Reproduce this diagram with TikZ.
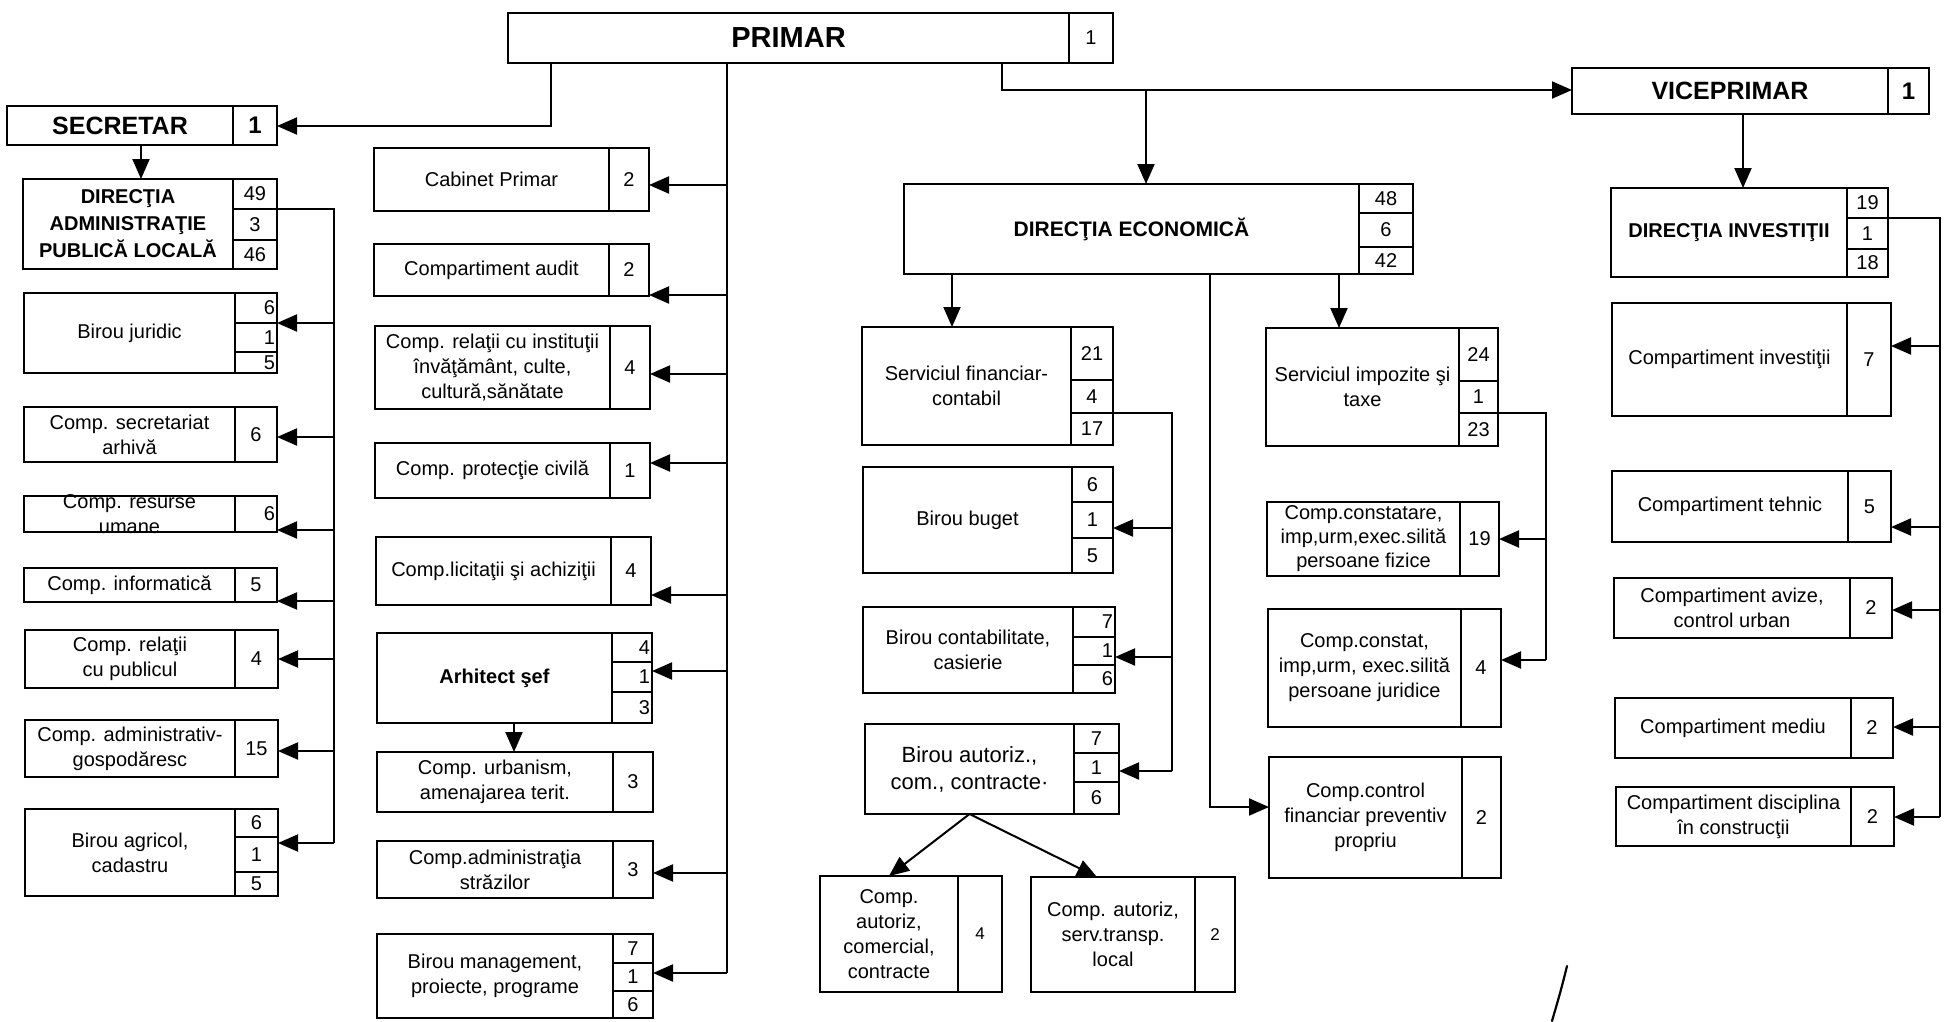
\documentclass[tikz,border=0pt]{standalone}
\usepackage{fontspec}
\setmainfont{Liberation Sans}
\usetikzlibrary{arrows.meta}
\newcommand\orgnode[7][]{\node[box,minimum width={#4-#3},minimum height={#6-#5},#1] (#2) at (#3,#5) {#7};}
\tikzset{
 box/.style={draw, line width=2.1pt, inner sep=0pt, outer sep=0pt, anchor=north west, align=center, font=\fontsize{20}{25}\selectfont},
 ttl/.style={font=\bfseries\fontsize{25}{30}\selectfont},
 dirf/.style={font=\bfseries\fontsize{20}{27}\selectfont},
 smallf/.style={font=\fontsize{17}{21}\selectfont},
 rnum/.style={text width=#1, align=right},
 arr/.style={line width=2pt, -{Triangle[length=20pt,width=17pt]}},
 ln/.style={line width=2pt},
}
\begin{document}
\begin{tikzpicture}[x=1pt,y=-1pt]
\fill[white] (0,0) rectangle (1944,1021);
\useasboundingbox (0,0) rectangle (1944,1021);

% ---------- PRIMAR ----------
\orgnode[font=\bfseries\fontsize{29}{34}\selectfont]{primar}{508}{1069}{13}{63}{PRIMAR}
\orgnode{primar-n}{1069}{1113}{13}{63}{1}

% ---------- SECRETAR column ----------
\orgnode[ttl]{secretar}{7}{233}{106}{145}{SECRETAR}
\orgnode[font=\bfseries\fontsize{24}{28}\selectfont]{secretar-n}{233}{277}{106}{145}{1}

\orgnode[dirf]{dirAdmin}{23}{233}{179}{269}{DIRECŢIA\\ADMINISTRAŢIE\\PUBLICĂ LOCALĂ}
\orgnode{dirAdmin-a}{233}{277}{179}{209}{49}
\orgnode{dirAdmin-b}{233}{277}{209}{240}{3}
\orgnode{dirAdmin-c}{233}{277}{240}{269}{46}

\orgnode{juridic}{24}{235}{293}{373}{Birou juridic}
\orgnode[rnum=38pt]{juridic-a}{235}{277}{293}{323}{6}
\orgnode[rnum=38pt]{juridic-b}{235}{277}{323}{352}{1}
\orgnode[rnum=38pt]{juridic-c}{235}{277}{352}{373}{5}

\orgnode{secretariat}{24}{235}{407}{462}{Comp. secretariat\\arhivă}
\orgnode{secretariat-n}{235}{277}{407}{462}{6}

\orgnode{resurse}{24}{235}{496}{532}{}
\node[align=center, font=\fontsize{20}{25}\selectfont] (resurse-t) at (resurse.center) {Comp. resurse\\umane};
\orgnode[rnum=38pt]{resurse-n}{235}{277}{496}{532}{6}

\orgnode{informatica}{24}{235}{568}{602}{Comp. informatică}
\orgnode{informatica-n}{235}{277}{568}{602}{5}

\orgnode{relatii}{25}{235}{630}{688}{Comp. relaţii\\cu publicul}
\orgnode{relatii-n}{235}{278}{630}{688}{4}

\orgnode{gospod}{25}{235}{720}{777}{Comp. administrativ-\\gospodăresc}
\orgnode{gospod-n}{235}{278}{720}{777}{15}

\orgnode{agricol}{25}{235}{809}{896}{Birou agricol,\\cadastru}
\orgnode{agricol-a}{235}{278}{809}{837}{6}
\orgnode{agricol-b}{235}{278}{837}{872}{1}
\orgnode{agricol-c}{235}{278}{872}{896}{5}

% ---------- PRIMAR direct column ----------
\orgnode{cabinet}{374}{609}{148}{211}{Cabinet Primar}
\orgnode{cabinet-n}{609}{649}{148}{211}{2}
\orgnode{audit}{374}{609}{244}{296}{Compartiment audit}
\orgnode{audit-n}{609}{649}{244}{296}{2}
\orgnode{instit}{375}{610}{326}{409}{Comp. relaţii cu instituţii\\învăţământ, culte,\\cultură,sănătate}
\orgnode{instit-n}{610}{650}{326}{409}{4}
\orgnode{protectie}{375}{610}{443}{498}{Comp. protecţie civilă}
\orgnode{protectie-n}{610}{650}{443}{498}{1}
\orgnode{licitatii}{376}{611}{537}{605}{Comp.licitaţii şi achiziţii}
\orgnode{licitatii-n}{611}{651}{537}{605}{4}
\orgnode[font=\bfseries\fontsize{20}{25}\selectfont]{arhitect}{377}{612}{633}{723}{Arhitect şef}
\orgnode[rnum=36pt]{arhitect-a}{612}{652}{633}{662}{4}
\orgnode[rnum=36pt]{arhitect-b}{612}{652}{662}{692}{1}
\orgnode[rnum=36pt]{arhitect-c}{612}{652}{692}{723}{3}
\orgnode{urbanism}{377}{613}{752}{812}{Comp. urbanism,\\amenajarea terit.}
\orgnode{urbanism-n}{613}{653}{752}{812}{3}
\orgnode{strazi}{377}{613}{841}{898}{Comp.administraţia\\străzilor}
\orgnode{strazi-n}{613}{653}{841}{898}{3}
\orgnode{management}{377}{613}{934}{1018}{Birou management,\\proiecte, programe}
\orgnode{management-a}{613}{653}{934}{963}{7}
\orgnode{management-b}{613}{653}{963}{991}{1}
\orgnode{management-c}{613}{653}{991}{1018}{6}

% ---------- DIRECTIA ECONOMICA ----------
\orgnode[font=\bfseries\fontsize{21}{25}\selectfont]{dirEcon}{904}{1359}{184}{274}{DIRECŢIA ECONOMICĂ}
\orgnode{dirEcon-a}{1359}{1413}{184}{213}{48}
\orgnode{dirEcon-b}{1359}{1413}{213}{247}{6}
\orgnode{dirEcon-c}{1359}{1413}{247}{274}{42}

\orgnode{finC}{862}{1071}{327}{445}{Serviciul financiar-\\contabil}
\orgnode{finC-a}{1071}{1113}{327}{380}{21}
\orgnode{finC-b}{1071}{1113}{380}{413}{4}
\orgnode{finC-c}{1071}{1113}{413}{445}{17}

\orgnode{buget}{863}{1072}{467}{573}{Birou buget}
\orgnode{buget-a}{1072}{1113}{467}{502}{6}
\orgnode{buget-b}{1072}{1113}{502}{538}{1}
\orgnode{buget-c}{1072}{1113}{538}{573}{5}

\orgnode{contab}{863}{1073}{607}{693}{Birou contabilitate,\\casierie}
\orgnode[rnum=38pt]{contab-a}{1073}{1115}{607}{637}{7}
\orgnode[rnum=38pt]{contab-b}{1073}{1115}{637}{665}{1}
\orgnode[rnum=38pt]{contab-c}{1073}{1115}{665}{693}{6}

\orgnode[font=\fontsize{22}{27}\selectfont]{autoriz}{865}{1074}{724}{814}{Birou autoriz.,\\com., contracte·}
\orgnode{autoriz-a}{1074}{1119}{724}{753}{7}
\orgnode{autoriz-b}{1074}{1119}{753}{782}{1}
\orgnode{autoriz-c}{1074}{1119}{782}{814}{6}

\orgnode{comercial}{820}{958}{876}{992}{Comp.\\autoriz,\\comercial,\\contracte}
\orgnode[smallf]{comercial-n}{958}{1002}{876}{992}{4}
\orgnode{transp}{1031}{1195}{877}{992}{Comp. autoriz,\\serv.transp.\\local}
\orgnode[smallf]{transp-n}{1195}{1235}{877}{992}{2}

\orgnode{impozite}{1266}{1459}{328}{446}{Serviciul impozite şi\\taxe}
\orgnode{impozite-a}{1459}{1498}{328}{381}{24}
\orgnode{impozite-b}{1459}{1498}{381}{413}{1}
\orgnode{impozite-c}{1459}{1498}{413}{446}{23}

\orgnode[font=\fontsize{20}{24}\selectfont]{fizice}{1267}{1460}{502}{576}{Comp.constatare,\\imp,urm,exec.silită\\persoane fizice}
\orgnode{fizice-n}{1460}{1499}{502}{576}{19}
\orgnode{juridice}{1268}{1461}{609}{727}{Comp.constat,\\imp,urm, exec.silită\\persoane juridice}
\orgnode{juridice-n}{1461}{1501}{609}{727}{4}
\orgnode{control}{1269}{1462}{757}{878}{Comp.control\\financiar preventiv\\propriu}
\orgnode{control-n}{1462}{1501}{757}{878}{2}

% ---------- VICEPRIMAR ----------
\orgnode[ttl]{vice}{1572}{1888}{68}{114}{VICEPRIMAR}
\orgnode[font=\bfseries\fontsize{24}{28}\selectfont]{vice-n}{1888}{1929}{68}{114}{1}

\orgnode[dirf]{dirInv}{1611}{1847}{188}{277}{DIRECŢIA INVESTIŢII}
\orgnode{dirInv-a}{1847}{1888}{188}{218}{19}
\orgnode{dirInv-b}{1847}{1888}{218}{249}{1}
\orgnode{dirInv-c}{1847}{1888}{249}{277}{18}

\orgnode{invest}{1612}{1847}{303}{416}{Compartiment investiţii}
\orgnode{invest-n}{1847}{1891}{303}{416}{7}
\orgnode{tehnic}{1612}{1848}{471}{542}{Compartiment tehnic}
\orgnode{tehnic-n}{1848}{1891}{471}{542}{5}
\orgnode{avize}{1614}{1850}{578}{638}{Compartiment avize,\\control urban}
\orgnode{avize-n}{1850}{1892}{578}{638}{2}
\orgnode{mediu}{1615}{1851}{698}{758}{Compartiment mediu}
\orgnode{mediu-n}{1851}{1893}{698}{758}{2}
\orgnode{disciplina}{1616}{1851}{787}{846}{Compartiment disciplina\\în construcţii}
\orgnode{disciplina-n}{1851}{1894}{787}{846}{2}

% ---------- connectors ----------
% PRIMAR -> SECRETAR
\coordinate (ps) at (551,126);
\draw[arr] (ps |- primar.south) -- (ps) -- (ps -| secretar-n.east);
% SECRETAR -> DIRECTIA ADMIN
\coordinate (sd) at (141,0);
\draw[arr] (secretar.south -| sd) -- (dirAdmin.north -| sd);
% left bus
\coordinate (lb) at (334,843);
\draw[ln] (dirAdmin-a.south east) -- (dirAdmin-a.south east -| lb) -- (lb);
\foreach \n/\y in {juridic-a/323, secretariat-n/437, resurse-n/530, informatica-n/601, relatii-n/659, gospod-n/751, agricol-b/843}
  {\coordinate (lb-\n) at (334,\y); \draw[arr] (lb-\n) -- (lb-\n -| \n.east);}

% PRIMAR bus
\coordinate (pb) at (727,973);
\draw[ln] (pb |- primar.south) -- (pb);
\foreach \n/\y in {cabinet-n/185, audit-n/295, instit-n/374, protectie-n/463, licitatii-n/595, arhitect-b/671, strazi-n/873, management-b/973}
  {\coordinate (pb-\n) at (727,\y); \draw[arr] (pb-\n) -- (pb-\n -| \n.east);}
% Arhitect -> urbanism
\coordinate (au) at (514,0);
\draw[arr] (arhitect.south -| au) -- (urbanism.north -| au);

% PRIMAR -> VICEPRIMAR
\coordinate (pv) at (1002,90);
\draw[arr] (pv |- primar.south) -- (pv) -- (pv -| vice.west);
% -> DIRECTIA ECONOMICA
\coordinate (pe) at (1146,90);
\draw[arr] (pe) -- (pe |- dirEcon.north);
% DIRECTIA ECONOMICA children
\coordinate (fc) at (952,0);
\draw[arr] (dirEcon.south -| fc) -- (finC.north -| fc);
\coordinate (ic) at (1339,0);
\draw[arr] (dirEcon.south -| ic) -- (impozite.north -| ic);
\coordinate (cc) at (1210,807);
\draw[arr] (dirEcon.south -| cc) -- (cc) -- (cc -| control.west);
% financiar bus
\coordinate (fb) at (1172,771);
\draw[ln] (finC-b.south east) -- (finC-b.south east -| fb) -- (fb);
\foreach \n/\y in {buget-b/528, contab-b/657, autoriz-b/771}
  {\coordinate (fb-\n) at (1172,\y); \draw[arr] (fb-\n) -- (fb-\n -| \n.east);}
% impozite bus
\coordinate (ib) at (1546,660);
\draw[ln] (impozite-b.south east) -- (impozite-b.south east -| ib) -- (ib);
\foreach \n/\y in {fizice-n/539, juridice-n/660}
  {\coordinate (ib-\n) at (1546,\y); \draw[arr] (ib-\n) -- (ib-\n -| \n.east);}
% autoriz -> two compartments
\draw[arr] (autoriz.south) -- (comercial.north);
\coordinate (tt) at (1097,0);
\draw[arr] (autoriz.south) -- (transp.north -| tt);

% VICEPRIMAR -> DIRECTIA INVESTITII
\coordinate (vd) at (1743,0);
\draw[arr] (vice.south -| vd) -- (dirInv.north -| vd);
% right bus
\coordinate (rb) at (1940,817);
\draw[ln] (dirInv-a.south east) -- (dirInv-a.south east -| rb) -- (rb);
\foreach \n/\y in {invest-n/346, tehnic-n/527, avize-n/610, mediu-n/727, disciplina-n/817}
  {\coordinate (rb-\n) at (1940,\y); \draw[arr] (rb-\n) -- (rb-\n -| \n.east);}

% pen stroke
\draw[line width=2.2pt, line cap=round] (1567,966) .. controls (1561,990) .. (1552,1021);
\end{tikzpicture}
\end{document}
